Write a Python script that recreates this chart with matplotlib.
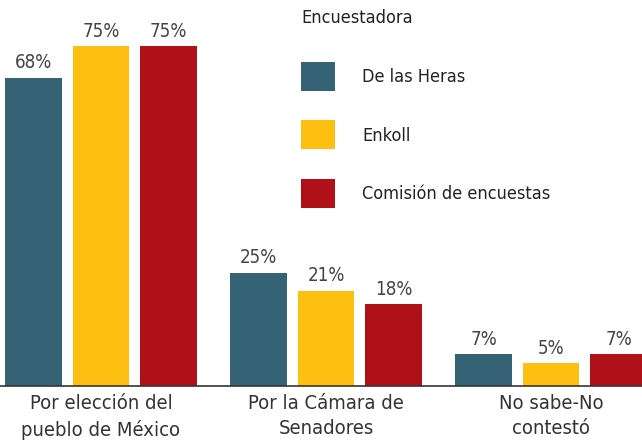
import numpy as np
import matplotlib
matplotlib.use("Agg")
import matplotlib.pyplot as plt
from matplotlib.patches import Patch

categories = ["Por elección del\npueblo de México", "Por la Cámara de\nSenadores", "No sabe-No\ncontestó"]
series = ["De las Heras", "Enkoll", "Comisión de encuestas"]
de_las_heras = [68, 25, 7]
enkoll = [75, 21, 5]
comision = [75, 18, 7]
colors = ["#356375", "#fdbf12", "#b01018"]

plt.rcParams["font.family"] = ["DejaVu Sans"]
plt.rcParams["font.stretch"] = "condensed"

fig = plt.figure(figsize=(6.42, 4.44), dpi=100)
ax = fig.add_axes([0, 58 / 444, 1, 386 / 444])

x = np.arange(len(categories))
step, width = 0.30, 0.25
values = [de_las_heras, enkoll, comision]
for i, (vals, col) in enumerate(zip(values, colors)):
    bars = ax.bar(x + (i - 1) * step, vals, width=width, color=col)
    ax.bar_label(bars, labels=[f"{v}%" for v in vals], padding=4,
                 fontsize=13.5, color="#444444")

ax.set_xlim(-0.449, 2.404)
ax.set_ylim(0, 85.2)
ax.set_xticks(x)
ax.set_xticklabels(categories, fontsize=14.5, color="#333333", linespacing=1.4)
ax.tick_params(axis="x", length=0, pad=6)
ax.set_yticks([])
for s in ["top", "left", "right"]:
    ax.spines[s].set_visible(False)
ax.spines["bottom"].set_color("#333333")
ax.spines["bottom"].set_linewidth(1.2)

handles = [Patch(facecolor=c) for c in colors]
leg = ax.legend(handles, series, title="Encuestadora", loc="upper left",
                bbox_to_anchor=(301 / 642, 1 - 9 / 444), bbox_transform=fig.transFigure,
                frameon=False, fontsize=13, title_fontsize=13, alignment="left",
                handlelength=1.9, handleheight=2.1, labelspacing=1.64,
                handletextpad=1.5, borderpad=0, borderaxespad=0)
for t in leg.get_texts():
    t.set_color("#222222")
leg.get_title().set_color("#222222")
leg._legend_box.sep = 25

fig.savefig("out.png", dpi=100)
